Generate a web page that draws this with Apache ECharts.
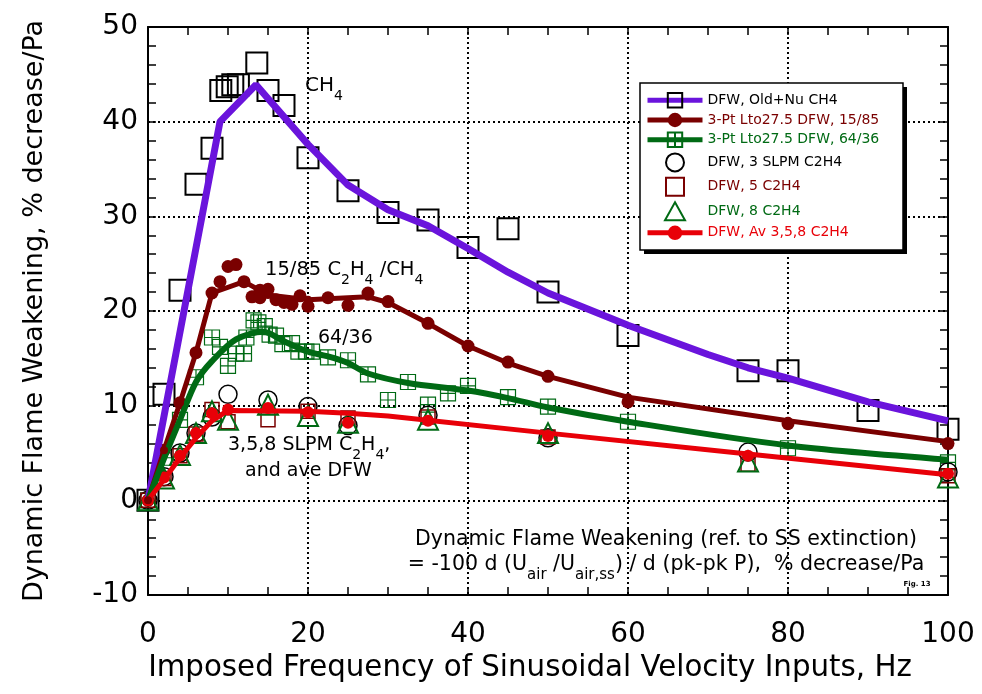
<!DOCTYPE html>
<html>
<head>
<meta charset="utf-8">
<script src="https://cdn.jsdelivr.net/npm/echarts@6/dist/echarts.min.js"></script>
<style>
  html, body { margin: 0; padding: 0; background: #fff; }
  #chart { width: 982px; height: 694px; }
</style>
</head>
<body>
<div id="chart"></div>
<script>
// CH4 fit curve and measured points
const ch4Fit = [[0,0],[9,40],[13.5,43.9],[20,37.6],[25,33.3],[30,30.7],[35,29.0],[40,26.6],[45,24.1],[50,21.9],[60,18.5],[70,15.4],[75,14.0],[80,12.9],[90,10.4],[100,8.4]];
const ch4Pts = [[0,0],[2,11.2],[4,22.2],[6,33.4],[8,37.2],[9.1,43.3],[9.9,43.7],[10.6,43.9],[11.3,43.9],[13.6,46.2],[15,43.3],[17,41.7],[20,36.2],[25,32.7],[30,30.4],[35,29.6],[40,26.7],[45,28.7],[50,22.0],[60,17.4],[75,13.7],[80,13.7],[90,9.5],[100,7.5]];

// 15/85 C2H4/CH4
const fit1585 = [[0,0],[2,5.3],[4,10.3],[6,15.6],[8,21.9],[12,23.1],[15,21.7],[20,21.2],[27.5,21.5],[30,20.9],[35,18.7],[40,16.3],[45,14.5],[50,13.1],[60,10.9],[80,8.4],[100,6.2]];
const pts1585 = [[0,0],[2,5.3],[4,10.3],[6,15.6],[8,21.9],[9,23.1],[10,24.7],[11,24.9],[12,23.1],[13,21.5],[14,21.4],[14,22.2],[15,22.3],[16,21.2],[17,20.9],[18,20.7],[19,21.6],[20,20.5],[22.5,21.4],[25,20.6],[27.5,21.9],[30,21.0],[35,18.7],[40,16.3],[45,14.6],[50,13.1],[60,10.4],[80,8.1],[100,6.0]];

// 64/36
const fit6436 = [[0,0],[2,4.4],[4,8.5],[6,12.5],[8,14.7],[11,17.0],[14.4,17.8],[17,16.8],[20,15.7],[22.5,15.2],[25,14.5],[27.5,13.4],[32.5,12.4],[40,11.6],[45,10.8],[50,9.8],[60,8.3],[80,5.8],[100,4.3]];
const pts6436 = [[0,0],[2,4.5],[4,8.5],[6,13.0],[8,17.2],[9,16.2],[10,14.2],[11,15.5],[12,15.5],[12.3,17.2],[13.2,19.0],[13.8,18.8],[14.6,18.4],[15.2,17.5],[16,17.4],[16.8,16.5],[18,16.6],[18.8,15.7],[19.8,15.7],[20.5,15.7],[22.5,15.1],[25,14.8],[27.5,13.3],[30,10.6],[32.5,12.5],[35,10.1],[37.5,11.3],[40,12.1],[45,10.9],[50,9.9],[60,8.3],[80,5.5],[100,4.0]];

// C2H4 at 3, 5, 8 SLPM and average
const pts3 = [[0,0],[2,2.5],[4,5.0],[6,7.1],[8,8.8],[10,11.2],[15,10.6],[20,9.9],[25,7.9],[35,9.0],[50,6.6],[75,5.1],[100,3.0]];
const pts5 = [[0,0],[2,2.3],[4,4.7],[6,7.0],[8,9.6],[10,8.3],[15,8.5],[20,9.4],[25,8.7],[35,8.8],[50,6.7],[75,3.8],[100,2.6]];
const pts8 = [[0,0],[2,2.3],[4,4.8],[6,7.1],[8,9.4],[10,8.5],[15,10.1],[20,8.9],[25,8.2],[35,8.5],[50,7.1],[75,4.1],[100,2.4]];
const ptsAvg = [[0,0],[2,2.4],[4,4.7],[6,7.1],[8,9.2],[10,9.6],[15,9.75],[20,9.3],[25,8.2],[35,8.4],[50,6.8],[75,4.7],[100,2.8]];
const fitAvg = [[0,0],[2,2.2],[4,4.5],[6,6.6],[8,8.4],[10,9.5],[20,9.4],[25,9.2],[30,8.9],[50,7.1],[75,4.9],[100,2.7]];

const names = ['DFW, Old+Nu CH4', '3-Pt Lto27.5 DFW, 15/85', '3-Pt Lto27.5 DFW, 64/36',
  'DFW, 3 SLPM C2H4', 'DFW, 5 C2H4', 'DFW, 8 C2H4', 'DFW, Av 3,5,8 C2H4'];

const F = 'DejaVu Sans';
const purple = '#6a14dc', maroon = '#7a0000', green = '#006a14', red = '#e80008';
const sqCross = 'path://M0,0H10V10H0Z M5,0V10 M0,5H10';
const sqPath = 'path://M0,0H10V10H0Z';
const triPath = 'path://M5,0L10,9L0,9Z';

function note(x, y, str, size, align) {
  const sub = Math.round(size * 0.72);
  return {
    type: 'text', x: x, y: y, z: 50,
    style: {
      text: str, fill: '#000', fontSize: size, fontFamily: F,
      textAlign: align || 'left', textVerticalAlign: 'middle',
      align: align || 'left', verticalAlign: 'middle',
      rich: {
        n: { fontSize: size, fontFamily: F, lineHeight: size + 4, verticalAlign: 'top' },
        s: { fontSize: sub, fontFamily: F, lineHeight: sub, padding: [Math.round(size * 0.66), 0, 0, 0], verticalAlign: 'top' }
      }
    }
  };
}

const axisCommon = {
  type: 'value',
  axisLine: { onZero: false, lineStyle: { color: '#000', width: 2 } },
  axisTick: { inside: true, length: 8, lineStyle: { color: '#000', width: 1.5 } },
  minorTick: { show: true, length: 8, lineStyle: { color: '#000', width: 1.5 } }
};

const chart = echarts.init(document.getElementById('chart'));
chart.setOption({
  animation: false,
  backgroundColor: '#fff',
  grid: { left: 148, right: 34, top: 27, bottom: 99 },
  xAxis: [
    Object.assign({}, axisCommon, {
      min: 0, max: 100, interval: 20, position: 'bottom',
      minorTick: Object.assign({}, axisCommon.minorTick, { splitNumber: 4 }),
      splitLine: { show: true, lineStyle: { color: '#000', width: 2, type: [2, 3] } },
      axisLabel: { fontSize: 28, color: '#000', fontFamily: F, margin: 26 },
      name: 'Imposed Frequency of Sinusoidal Velocity Inputs, Hz',
      nameLocation: 'middle', nameGap: 55,
      nameTextStyle: { fontSize: 29.3, color: '#000', fontFamily: F, padding: [0, 36, 0, 0] }
    }),
    Object.assign({}, axisCommon, {
      min: 0, max: 100, interval: 20, position: 'top',
      minorTick: Object.assign({}, axisCommon.minorTick, { splitNumber: 4 }),
      splitLine: { show: false }, axisLabel: { show: false }
    })
  ],
  yAxis: [
    Object.assign({}, axisCommon, {
      min: -10, max: 50, interval: 10, position: 'left',
      minorTick: Object.assign({}, axisCommon.minorTick, { splitNumber: 5 }),
      splitLine: { show: true, lineStyle: { color: '#000', width: 2, type: [2, 3] } },
      axisLabel: { fontSize: 28, color: '#000', fontFamily: F, margin: 10 },
      name: 'Dynamic Flame Weakening, % decrease/Pa',
      nameLocation: 'middle', nameGap: 100,
      nameTextStyle: { fontSize: 27, color: '#000', fontFamily: F }
    }),
    Object.assign({}, axisCommon, {
      min: -10, max: 50, interval: 10, position: 'right',
      minorTick: Object.assign({}, axisCommon.minorTick, { splitNumber: 5 }),
      splitLine: { show: false }, axisLabel: { show: false }
    })
  ],
  legend: {
    orient: 'vertical', left: 637, top: 84, z: 10,
    padding: [8, 10, 8, 8],
    itemWidth: 55, itemHeight: 18, itemGap: 4.4,
    backgroundColor: 'transparent', borderWidth: 0,
    selectedMode: false,
    textStyle: { fontSize: 14, fontFamily: F, color: '#000' },
    data: [
      { name: names[0], textStyle: { color: '#000' }, lineStyle: { width: 5 } },
      { name: names[1], textStyle: { color: maroon }, lineStyle: { width: 5 } },
      { name: names[2], textStyle: { color: green }, lineStyle: { width: 5 } },
      { name: names[3], textStyle: { color: '#000' } },
      { name: names[4], textStyle: { color: maroon }, icon: sqPath },
      { name: names[5], textStyle: { color: green }, icon: triPath },
      { name: names[6], textStyle: { color: red }, lineStyle: { width: 5 } }
    ]
  },
  series: [
    {
      name: names[0], type: 'line', data: ch4Fit, showSymbol: false,
      symbol: 'rect', symbolSize: 16,
      lineStyle: { color: purple, width: 7 },
      itemStyle: { color: 'transparent', borderColor: '#000', borderWidth: 1.5 }
    },
    {
      name: names[0], type: 'scatter', data: ch4Pts, symbol: 'rect', symbolSize: 21,
      itemStyle: { color: 'transparent', borderColor: '#000', borderWidth: 2, opacity: 1 }
    },
    {
      name: names[1], type: 'line', data: fit1585, symbol: 'circle', symbolSize: 8,
      lineStyle: { color: maroon, width: 5 }, itemStyle: { color: maroon }
    },
    {
      name: names[1], type: 'scatter', data: pts1585, symbol: 'circle', symbolSize: 13,
      itemStyle: { color: maroon, opacity: 1 }
    },
    {
      name: names[2], type: 'line', data: fit6436, smooth: 0.3, showSymbol: false,
      symbol: sqCross, symbolSize: 12,
      lineStyle: { color: green, width: 6 },
      itemStyle: { color: 'transparent', borderColor: green, borderWidth: 1.2 }
    },
    {
      name: names[2], type: 'scatter', data: pts6436, symbol: sqCross, symbolSize: 15,
      itemStyle: { color: 'transparent', borderColor: green, borderWidth: 1.2, opacity: 1 }
    },
    {
      name: names[3], type: 'scatter', data: pts3, symbol: 'circle', symbolSize: 18,
      itemStyle: { color: 'transparent', borderColor: '#000', borderWidth: 1.5, opacity: 1 }
    },
    {
      name: names[4], type: 'scatter', data: pts5, symbol: 'rect', symbolSize: 14,
      itemStyle: { color: 'transparent', borderColor: maroon, borderWidth: 1.5, opacity: 1 }
    },
    {
      name: names[5], type: 'scatter', data: pts8, symbol: 'triangle', symbolSize: 20,
      itemStyle: { color: 'transparent', borderColor: green, borderWidth: 2, opacity: 1 }
    },
    {
      name: names[6], type: 'line', data: fitAvg, showSymbol: false,
      symbol: 'circle', symbolSize: 10,
      lineStyle: { color: red, width: 5 }, itemStyle: { color: red }
    },
    {
      name: names[6], type: 'scatter', data: ptsAvg, symbol: 'circle', symbolSize: 12,
      itemStyle: { color: red, opacity: 1 }
    }
  ],
  graphic: [
    // legend frame with drop shadow
    { type: 'rect', z: 3, shape: { x: 644, y: 87, width: 263, height: 167 }, style: { fill: '#000' } },
    { type: 'rect', z: 3, shape: { x: 640, y: 83, width: 263, height: 167 },
      style: { fill: '#fff', stroke: '#000', lineWidth: 1.5 } },
    note(305, 88, '{n|CH}{s|4}', 20),
    note(265, 272, '{n|15/85 C}{s|2}{n|H}{s|4}{n| /CH}{s|4}', 19.5),
    note(318, 340, '{n|64/36}', 19),
    note(228, 447, '{n|3,5,8 SLPM C}{s|2}{n|H}{s|4}{n|,}', 19),
    note(245, 473, '{n|and ave DFW}', 19),
    note(666, 541, '{n|Dynamic Flame Weakening (ref. to SS extinction)}', 20.5, 'center'),
    note(666, 566, '{n|= -100 d (U}{s|air}{n| /U}{s|air,ss}{n|) / d (pk-pk P),  % decrease/Pa}', 20.5, 'center'),
    { type: 'text', x: 917, y: 584, z: 50,
      style: { text: 'Fig. 13', fill: '#000', fontSize: 7, fontWeight: 'bold', fontFamily: F,
               textAlign: 'center', textVerticalAlign: 'middle', align: 'center', verticalAlign: 'middle' } }
  ]
});
</script>
</body>
</html>
